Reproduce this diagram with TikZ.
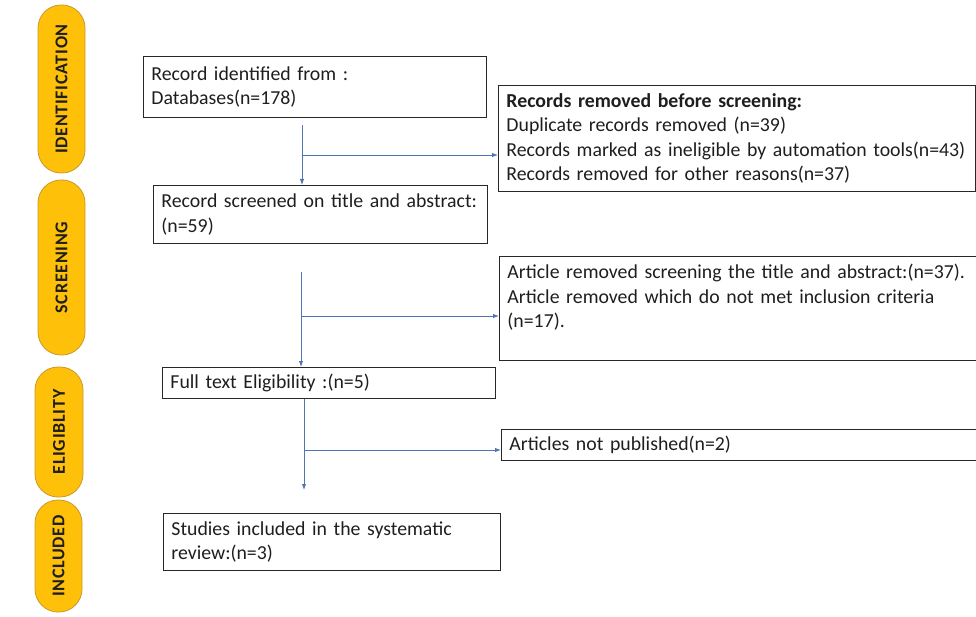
\documentclass[tikz,border=0pt]{standalone}
\usepackage{fontspec}
\setmainfont{Carlito}
\newfontfamily\pillfont[LetterSpace=4]{Carlito}
\usetikzlibrary{arrows.meta}
\definecolor{pillfill}{RGB}{255,192,10}
\definecolor{pilldraw}{RGB}{200,155,40}
\definecolor{arrowc}{RGB}{84,118,176}
\definecolor{boxline}{RGB}{40,40,40}
\definecolor{txt}{RGB}{30,30,30}
\tikzset{
  box/.style={draw=boxline, line width=0.9pt, anchor=north west, align=left,
    inner xsep=8pt, inner ysep=0pt, text=txt,
    font=\fontsize{19.8}{24.5}\selectfont},
  pill/.style={draw=pilldraw, fill=pillfill, line width=0.8pt, rotate=90,
    rounded corners=23pt, inner sep=0pt,
    font=\pillfont\bfseries\fontsize{18}{20}\selectfont, text=txt},
  flow/.style={draw=arrowc, line width=0.9pt, -{Latex[length=6pt,width=4.5pt]}}
}
\begin{document}
\begin{tikzpicture}[x=1pt,y=-1pt]
\useasboundingbox (0,0) rectangle (976,617);
% phase pills
\node[pill, minimum width=168, minimum height=47] (p1) at (61.5,89) {IDENTIFICATION};
\node[pill, minimum width=175, minimum height=47] (p2) at (61.5,267.5) {SCREENING};
\node[pill, minimum width=130, minimum height=48] (p3) at (59,432) {ELIGIBLITY};
\node[pill, minimum width=112, minimum height=47] (p4) at (58.5,556) {INCLUDED};
% boxes
\node[box, text width=327, minimum height=61] (b1) at (143,56) {Record identified from :\\Databases(n=178)};
\node[box, text width=461, minimum height=106] (b2) at (498,85) {\textbf{Records removed before screening:}\\Duplicate records removed (n=39)\\Records marked as ineligible by automation tools(n=43)\\Records removed for other reasons(n=37)};
\node[box, text width=318, minimum height=58] (b3) at (153,185) {Record screened on title and abstract:\\(n=59)};
\node[box, text width=461, minimum height=104] (b4) at (499,256) {Article removed screening the title and abstract:(n=37).\\Article removed which do not met inclusion criteria\\(n=17).\\\mbox{}};
\node[box, text width=317, minimum height=31] (b5) at (162,367) {Full text Eligibility :(n=5)};
\node[box, text width=459, minimum height=31] (b6) at (501,429) {Articles not published(n=2)};
\node[box, text width=321, minimum height=57] (b7) at (163,513) {Studies included in the systematic\\review:(n=3)};
% connectors
\coordinate (a1s) at (302,125);
\coordinate (j1) at (302,155);
\draw[flow] (a1s) -- (a1s |- b3.north);
\draw[flow] (j1) -- (j1 -| b2.west);
\coordinate (a2s) at (301,272);
\coordinate (j2) at (301,316);
\draw[flow] (a2s) -- (a2s |- b5.north);
\draw[flow] (j2) -- (j2 -| b4.west);
\coordinate (a3s) at (304,398);
\coordinate (a3e) at (304,490);
\coordinate (j3) at (304,450);
\draw[flow] (a3s |- b5.south) -- (a3e);
\draw[flow] (j3) -- (j3 -| b6.west);
\end{tikzpicture}
\end{document}
